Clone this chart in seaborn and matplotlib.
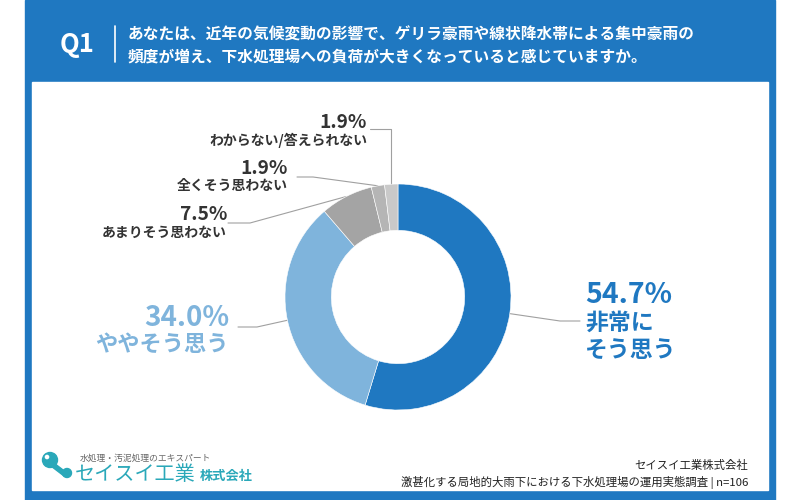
import matplotlib
matplotlib.use("Agg")
import matplotlib.pyplot as plt
import seaborn as sns
import numpy as np
from matplotlib.patches import Rectangle, Circle, Polygon

# ---- data ----
categories = ["非常に\nそう思う", "ややそう思う", "あまりそう思わない", "全くそう思わない", "わからない/答えられない"]
values = [54.7, 34.0, 7.5, 1.9, 1.9]
pct_labels = ["54.7%", "34.0%", "7.5%", "1.9%", "1.9%"]
title_q = "Q1"
title_lines = ["あなたは、近年の気候変動の影響で、ゲリラ豪雨や線状降水帯による集中豪雨の",
               "頻度が増え、下水処理場への負荷が大きくなっていると感じていますか。"]
source_lines = ["セイスイ工業株式会社",
                "激甚化する局地的大雨下における下水処理場の運用実態調査 | n=106"]
logo_tagline = "水処理・汚泥処理のエキスパート"
logo_name = "セイスイ工業"
logo_suffix = "株式会社"

BLUE = "#1f78c1"
LIGHT = "#7fb4dc"
colors = [BLUE, LIGHT, "#a4a4a4", "#b5b5b5", "#c9c9c9"]
TEAL = "#2aa8b9"
DARK = "#333333"

sns.set_theme(style="white")
plt.rcParams['font.family'] = ['Noto Sans CJK JP', 'DejaVu Sans']

fig = plt.figure(figsize=(8, 5), dpi=100)
fig.patch.set_facecolor("white")
bg = fig.add_axes([0, 0, 1, 1])
bg.set_xlim(0, 800)
bg.set_ylim(500, 0)
bg.axis("off")
bg.add_patch(Rectangle((25, 0), 750, 500, color=BLUE, zorder=0))
bg.add_patch(Rectangle((32, 82), 736, 408, color="white", zorder=1))

# header
bg.text(77, 44, title_q, color="white", fontsize=18.5, fontweight="bold",
        ha="center", va="center", zorder=3)
bg.plot([115, 115], [26, 62], color="white", lw=1.2, zorder=3)
for i, line in enumerate(title_lines):
    bg.text(128, 35 + 22 * i, line, color="white", fontsize=11.3, fontweight="bold",
            ha="left", va="center", zorder=3)

# donut
cx, cy, R = 398, 297, 113
pax = fig.add_axes([(cx - R) / 800, (500 - cy - R) / 500, 2 * R / 800, 2 * R / 500])
pax.set_zorder(2)
wedges, _ = pax.pie(values, colors=colors, startangle=90, counterclock=False, radius=1,
                    wedgeprops=dict(width=0.41, edgecolor="white", linewidth=0.4))
pax.set_xlim(-1, 1)
pax.set_ylim(-1, 1)
pax.set_aspect("equal")
pax.axis("off")


def anchor(w):
    th = np.deg2rad((w.theta1 + w.theta2) / 2)
    disp = pax.transData.transform((np.cos(th), np.sin(th)))
    return bg.transData.inverted().transform(disp)


# label layout: (elbow, end, text x, ha, pct y, [line ys], pct size, cat size, color)
layout = [
    ((560, 321), (580, 321), 585, "left", 295, [323, 350], 20.5, 16.5, BLUE),
    ((257, 327), (238, 327), 229, "right", 318, [344], 20, 16, LIGHT),
    ((250, 223), (228, 223), 227, "right", 215, [233], 13.8, 10, DARK),
    ((313, 177), (297, 177), 288, "right", 169, [186], 13.8, 10, DARK),
    (None, (370, 129), 367, "right", 123, [140], 13.8, 10, DARK),
]
for w, cat, pct, lay in zip(wedges, categories, pct_labels, layout):
    elbow, end, tx, ha, py, lys, ps, cs, col = lay
    ax_, ay_ = anchor(w)
    if elbow is None:
        elbow = (ax_, end[1])
    bg.plot([ax_, elbow[0], end[0]], [ay_, elbow[1], end[1]], color="#a0a0a0",
            lw=0.8, zorder=3)
    bg.text(tx, py, pct, color=col, fontsize=ps, fontweight="bold", ha=ha,
            va="center", zorder=3)
    for ly, t in zip(lys, cat.split("\n")):
        bg.text(tx, ly, t, color=col, fontsize=cs, fontweight="bold", ha=ha,
                va="center", zorder=3)

# logo
bg.add_patch(Polygon([(50, 460), (67, 473), (64, 476), (47, 463)], closed=True,
                     color=TEAL, zorder=3))
bg.add_patch(Circle((50, 460), 7.5, color=TEAL, zorder=3))
bg.add_patch(Circle((67, 473), 4.5, color=TEAL, zorder=3))
bg.add_patch(Circle((47, 457), 1.6, color="white", zorder=4))
bg.text(80, 458, logo_tagline, color="#666666", fontsize=6.3, ha="left", va="center", zorder=3)
bg.text(75, 474, logo_name, color=TEAL, fontsize=14.5, ha="left", va="center", zorder=3)
bg.text(200, 476, logo_suffix, color=TEAL, fontsize=9.5, fontweight="bold",
        ha="left", va="center", zorder=3)

# source
bg.text(748, 465, source_lines[0], color="#222222", fontsize=8.2, ha="right", va="center", zorder=3)
bg.text(748, 482, source_lines[1], color="#222222", fontsize=8.2, ha="right", va="center", zorder=3)

fig.savefig("out.png", dpi=100)
